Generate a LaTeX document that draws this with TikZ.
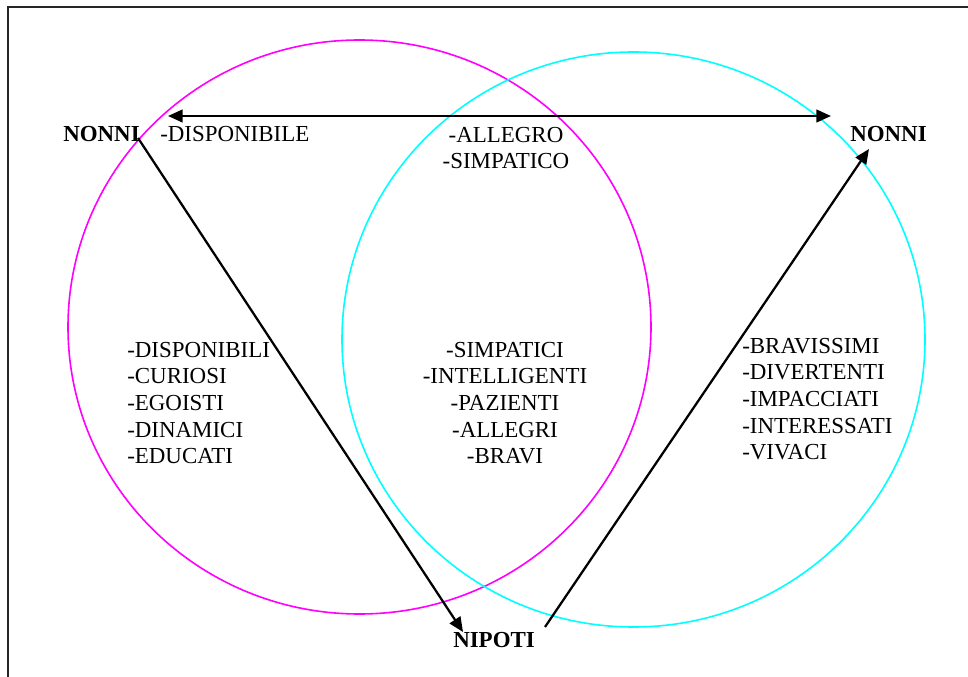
\documentclass[tikz,border=0pt]{standalone}
\usepackage{fontspec}
\setmainfont{Liberation Serif}
\usetikzlibrary{arrows.meta}
\definecolor{mag}{RGB}{255,0,255}
\definecolor{cya}{RGB}{0,255,255}
\begin{document}
\begin{tikzpicture}[x=0.75pt,y=-0.75pt,
  lbl/.style={inner sep=0pt,font={\fontsize{17.2}{20}\selectfont}},
  head/.style={inner sep=0pt,font={\fontsize{17.2}{20}\selectfont\bfseries}},
  tip/.style={Triangle[length=11pt,width=9.5pt]},
  conn/.style={line width=1.7pt,-{Triangle[length=11pt,width=9.5pt]}},
  ring/.style={line width=1.2pt}]
\useasboundingbox (0,0) rectangle (968,677);
% frame
\draw[line width=1.5pt,black!85] (8,677) -- (8,7) -- (968,7);
% circles
\draw[ring,mag] (359.5,327) ellipse [x radius=291.5, y radius=287];
\draw[ring,cya] (633.5,339.5) ellipse [x radius=291.5, y radius=287.5];
% headings
\node[head,anchor=base west] (nl) at (63,142) {NONNI};
\node[head,anchor=base west] (nr) at (850,142) {NONNI};
\node[head,anchor=base west] (np) at (453,647) {NIPOTI};
% labels (anchor base = baseline of last line)
\node[lbl,anchor=base west] (disp) at (160,142) {-DISPONIBILE};
\node[lbl,anchor=base,align=center] (top) at (506,168.7) {-ALLEGRO\\-SIMPATICO};
\node[lbl,anchor=base west,align=left] (left) at (127,463.7) {-DISPONIBILI\\-CURIOSI\\-EGOISTI\\-DINAMICI\\-EDUCATI};
\node[lbl,anchor=base,align=center] (mid) at (505,463.7) {-SIMPATICI\\-INTELLIGENTI\\-PAZIENTI\\-ALLEGRI\\-BRAVI};
\node[lbl,anchor=base west,align=left] (right) at (742,459.7) {-BRAVISSIMI\\-DIVERTENTI\\-IMPACCIATI\\-INTERESSATI\\-VIVACI};
% connector ends
\coordinate (a1) at (168,116);
\coordinate (a2) at (831,116);
\coordinate (b1) at (138,138);
\coordinate (b2) at (463,632);
\coordinate (c1) at (545,627);
\coordinate (c2) at (869,149);
\draw[conn,{Triangle[length=11pt,width=9.5pt]}-{Triangle[length=11pt,width=9.5pt]}] (a1) -- (a2);
\draw[conn] (b1) -- (b2);
\draw[conn] (c1) -- (c2);
\end{tikzpicture}
\end{document}
